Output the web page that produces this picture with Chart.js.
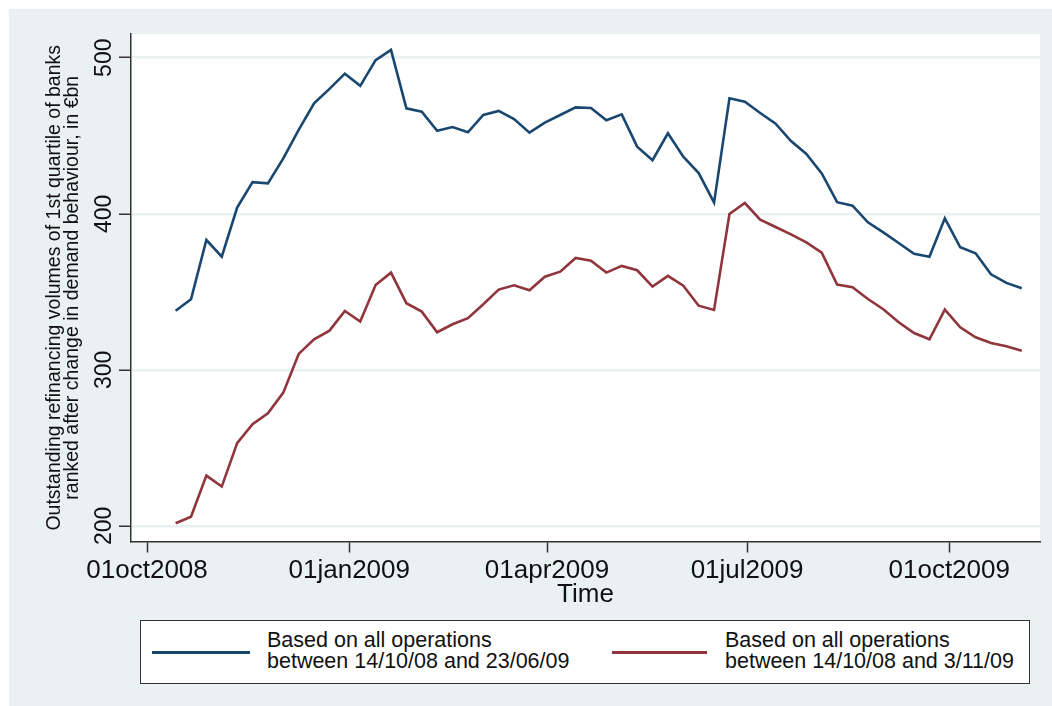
<!DOCTYPE html>
<html>
<head>
<meta charset="utf-8">
<script src="https://cdn.jsdelivr.net/npm/chart.js@4"></script>
<style>
  html, body { margin: 0; padding: 0; background: #fff; }
  #wrap { position: relative; width: 1052px; height: 706px; overflow: hidden; }
  #bg { position: absolute; left: 9px; top: 9px; right: 0; bottom: 0; background: #eaf1f3; }
  #chart { position: absolute; left: 0; top: 0; }
  #legend {
    position: absolute; left: 140px; top: 620px; width: 888px; height: 62px;
    background: #fff; border: 1px solid #333;
    font-family: "Liberation Sans", Arial, sans-serif; font-size: 21.5px; line-height: 21px; color: #111;
  }
  .swatch { position: absolute; height: 2.5px; top: 30px; }
  .txt { position: absolute; top: 9px; white-space: nowrap; }
</style>
</head>
<body>
<div id="wrap">
  <div id="bg"></div>
  <canvas id="chart" width="1052" height="706"></canvas>
  <div id="legend">
    <div class="swatch" style="left:11px;width:98px;background:#1a476f"></div>
    <div class="txt" style="left:126px">Based on all operations<br>between 14/10/08 and 23/06/09</div>
    <div class="swatch" style="left:471px;width:95px;background:#90353b"></div>
    <div class="txt" style="left:584px">Based on all operations<br>between 14/10/08 and 3/11/09</div>
  </div>
</div>
<script>
// weekly observation dates
const dates = [
  "2008-10-14","2008-10-21","2008-10-28","2008-11-04","2008-11-11","2008-11-18","2008-11-25",
  "2008-12-02","2008-12-09","2008-12-16","2008-12-23","2008-12-30","2009-01-06","2009-01-13",
  "2009-01-20","2009-01-27","2009-02-03","2009-02-10","2009-02-17","2009-02-24","2009-03-03",
  "2009-03-10","2009-03-17","2009-03-24","2009-03-31","2009-04-07","2009-04-14","2009-04-21",
  "2009-04-28","2009-05-05","2009-05-12","2009-05-19","2009-05-26","2009-06-02","2009-06-09",
  "2009-06-16","2009-06-23","2009-06-30","2009-07-07","2009-07-14","2009-07-21","2009-07-28",
  "2009-08-04","2009-08-11","2009-08-18","2009-08-25","2009-09-01","2009-09-08","2009-09-15",
  "2009-09-22","2009-09-29","2009-10-06","2009-10-13","2009-10-20","2009-10-27","2009-11-03"
];

// based on all operations between 14/10/08 and 23/06/09
const seriesJune = [
  337.9, 345.2, 383.2, 372.5, 404.0, 420.3, 419.5, 435.5, 453.7, 470.8, 480.0, 489.8, 482.0, 498.5,
  505.0, 467.6, 465.4, 453.2, 455.6, 452.2, 463.3, 465.9, 460.7, 452.0, 458.4, 463.3, 468.2, 467.8,
  459.9, 463.7, 443.0, 434.3, 451.6, 436.6, 426.1, 407.1, 474.0, 471.8, 464.6, 457.7, 446.6, 438.3,
  425.9, 407.4, 405.2, 394.5, 388.1, 381.3, 374.4, 372.5, 397.1, 378.5, 374.7, 361.2, 355.7, 352.3
];

// based on all operations between 14/10/08 and 3/11/09
const seriesNov = [
  201.7, 205.9, 232.2, 225.2, 253.0, 265.1, 272.2, 285.4, 310.2, 319.6, 325.1, 337.7, 330.9, 354.4,
  362.3, 342.7, 337.3, 324.1, 329.2, 333.1, 342.0, 351.4, 354.2, 351.0, 359.7, 362.9, 371.7, 369.9,
  362.3, 366.6, 363.8, 353.3, 360.2, 353.9, 341.1, 338.4, 399.9, 406.9, 396.2, 391.5, 386.8, 381.7,
  375.1, 354.6, 352.9, 345.4, 338.8, 330.5, 323.6, 319.6, 338.6, 327.3, 320.9, 317.2, 315.1, 312.3
];

const tickDates = ["2008-10-01", "2009-01-01", "2009-04-01", "2009-07-01", "2009-10-01"];
const tickLabels = ["01oct2008", "01jan2009", "01apr2009", "01jul2009", "01oct2009"];
const yTicks = [200, 300, 400, 500];

// days since 1 Oct 2008
function dayNum(s) {
  const p = s.split("-").map(Number);
  return (Date.UTC(p[0], p[1] - 1, p[2]) - Date.UTC(2008, 9, 1)) / 86400000;
}
const xs = dates.map(dayNum);
const tickDays = tickDates.map(dayNum);

const FONT = "'Liberation Sans', Arial, sans-serif";

// white plot region + rotated y tick labels (Stata style)
const plotDecor = {
  id: "plotDecor",
  beforeDraw(chart) {
    const { ctx, chartArea: a } = chart;
    ctx.save();
    ctx.fillStyle = "#ffffff";
    ctx.fillRect(a.left, a.top, a.right - a.left, a.bottom - a.top);
    ctx.restore();
  },
  afterDraw(chart) {
    const { ctx } = chart;
    const y = chart.scales.y;
    ctx.save();
    ctx.font = "23px " + FONT;
    ctx.fillStyle = "#111";
    ctx.textAlign = "center";
    ctx.textBaseline = "alphabetic";
    yTicks.forEach(v => {
      ctx.save();
      ctx.translate(111, y.getPixelForValue(v));
      ctx.rotate(-Math.PI / 2);
      ctx.fillText(String(v), 0, 0);
      ctx.restore();
    });
    ctx.restore();
  }
};

new Chart(document.getElementById("chart"), {
  type: "line",
  data: {
    datasets: [
      {
        label: "Based on all operations between 14/10/08 and 23/06/09",
        data: xs.map((x, i) => ({ x: x, y: seriesJune[i] })),
        borderColor: "#1a476f",
        borderWidth: 2.6,
        pointRadius: 0,
        tension: 0
      },
      {
        label: "Based on all operations between 14/10/08 and 3/11/09",
        data: xs.map((x, i) => ({ x: x, y: seriesNov[i] })),
        borderColor: "#90353b",
        borderWidth: 2.6,
        pointRadius: 0,
        tension: 0
      }
    ]
  },
  options: {
    responsive: false,
    animation: false,
    layout: { padding: { left: 0, top: 34, right: 12, bottom: 98 } },
    plugins: {
      legend: { display: false },
      tooltip: { enabled: false }
    },
    scales: {
      x: {
        type: "linear",
        min: -7.3,
        max: 406.3,
        afterBuildTicks: s => { s.ticks = tickDays.map(v => ({ value: v })); },
        afterFit: s => { s.height = 66.5; },
        ticks: {
          autoSkip: false,
          maxRotation: 0,
          padding: 3,
          color: "#111",
          font: { family: FONT, size: 26 },
          callback: v => tickLabels[tickDays.indexOf(v)]
        },
        grid: { drawOnChartArea: false, tickLength: 11, tickColor: "#333", tickWidth: 1.5 },
        border: { color: "#333", width: 1.5 },
        title: {
          display: true,
          text: "Time",
          color: "#111",
          font: { family: FONT, size: 26, lineHeight: 1 },
          padding: { top: 0, bottom: 0 }
        }
      },
      y: {
        min: 190,
        max: 515.2,
        afterBuildTicks: s => { s.ticks = yTicks.map(v => ({ value: v })); },
        afterFit: s => { s.width = 131; },
        ticks: { display: false },
        grid: { color: "#eaf1f3", lineWidth: 2.5, tickLength: 12, tickColor: "#333", tickWidth: 1.5 },
        border: { color: "#333", width: 1.5 },
        title: {
          display: true,
          text: ["Outstanding refinancing volumes of 1st quartile of banks",
                 "ranked after change in demand behaviour, in €bn"],
          color: "#111",
          font: { family: FONT, size: 19.5, lineHeight: 0.88 },
          padding: { top: 46.5, bottom: 0 }
        }
      }
    }
  },
  plugins: [plotDecor]
});
</script>
</body>
</html>
